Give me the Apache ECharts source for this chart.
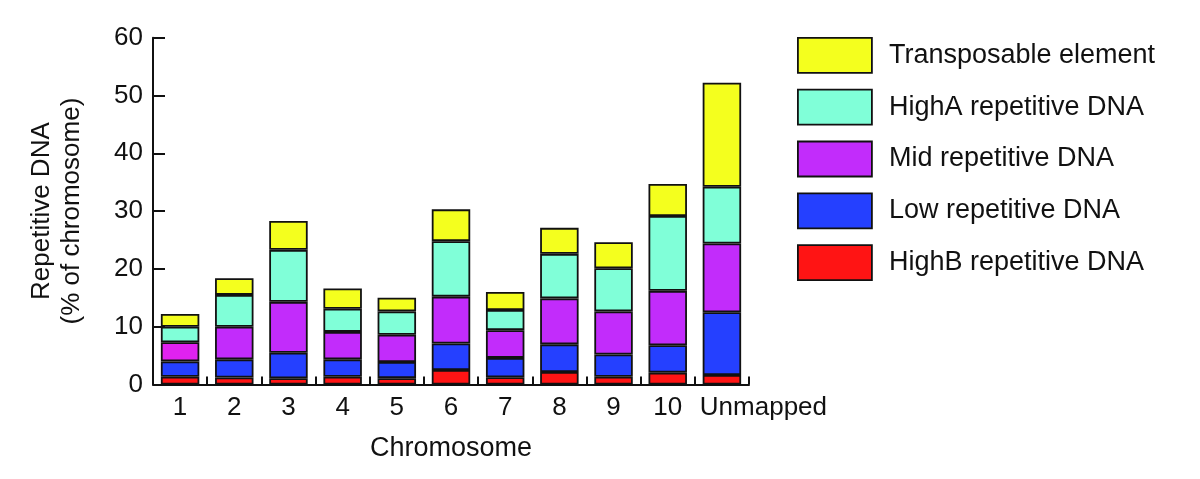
<!DOCTYPE html>
<html>
<head>
<meta charset="utf-8">
<script src="https://cdn.jsdelivr.net/npm/echarts@6/dist/echarts.min.js"></script>
<style>
  html, body { margin: 0; padding: 0; background: #fff; }
  #chart { width: 1200px; height: 479px; }
</style>
</head>
<body>
<div id="chart"></div>
<script>
const categories = ['1', '2', '3', '4', '5', '6', '7', '8', '9', '10', 'Unmapped'];
const highB        = [1.35, 1.2, 1.07, 1.35, 1.1, 2.5, 1.25, 2.15, 1.35, 2.05, 1.65];
const lowRep       = [2.65, 3.15, 4.43, 3.0, 2.8, 4.6, 3.35, 4.8, 3.85, 4.75, 10.85];
const midRep       = [3.3, 5.65, 8.8, 4.75, 4.7, 8.1, 4.8, 7.95, 7.45, 9.4, 11.9];
const highA        = [2.7, 5.5, 9.0, 4.0, 4.05, 9.6, 3.5, 7.7, 7.45, 12.95, 9.8];
const transposable = [2.2, 2.9, 5.0, 3.5, 2.35, 5.5, 3.1, 4.5, 4.5, 5.55, 18.0];
const yTicks = [0, 10, 20, 30, 40, 50, 60];

const FONT = '"Liberation Sans", Arial, Helvetica, sans-serif';
const colors = {
  te: '#F4FF1E',
  highA: '#80FFD8',
  mid: '#C22CFB',
  low: '#2540FF',
  highB: '#FF1414'
};
const midFirstColor = '#E022F0';

const chart = echarts.init(document.getElementById('chart'), null, { renderer: 'canvas' });

function mkSeries(name, data, color, override) {
  return {
    name: name,
    type: 'bar',
    stack: 'all',
    barCategoryGap: '29%',
    data: data.map((v, i) => (override && override[i]) ? { value: v, itemStyle: { color: override[i] } } : v),
    itemStyle: { color: color, borderColor: '#111', borderWidth: 1.8 },
    emphasis: { disabled: true },
    animation: false
  };
}

const option = {
  animation: false,
  textStyle: { fontFamily: FONT },
  grid: { left: 153, top: 37.7, width: 596, bottom: 94.5, containLabel: false },
  legend: {
    orient: 'vertical',
    left: 797,
    top: 37,
    padding: 0,
    itemWidth: 74,
    itemHeight: 35,
    itemGap: 15,
    icon: 'rect',
    selectedMode: false,
    data: ['Transposable element', 'HighA repetitive DNA', 'Mid repetitive DNA', 'Low repetitive DNA', 'HighB repetitive DNA'],
    itemStyle: { borderColor: '#111', borderWidth: 1.8 },
    textStyle: { fontFamily: FONT, fontSize: 27, color: '#111', padding: [0, 0, 0, 12] }
  },
  xAxis: {
    type: 'category',
    data: categories,
    boundaryGap: true,
    name: 'Chromosome',
    nameLocation: 'middle',
    nameGap: 51,
    nameTextStyle: { fontFamily: FONT, fontSize: 27, color: '#111' },
    axisLine: { lineStyle: { color: '#111', width: 2 } },
    axisTick: { show: true, inside: true, length: 8, lineStyle: { color: '#111', width: 2 } },
    axisLabel: {
      fontFamily: FONT, fontSize: 26, color: '#111', margin: 10, interval: 0,
      formatter: function (v) { return v === 'Unmapped' ? '{u|' + v + '}' : v; },
      rich: { u: { fontFamily: FONT, fontSize: 26, color: '#111', padding: [0, 0, 0, 83] } }
    }
  },
  yAxis: {
    type: 'value',
    min: yTicks[0],
    max: yTicks[yTicks.length - 1],
    interval: 10,
    name: 'Repetitive DNA\n(% of chromosome)',
    nameLocation: 'middle',
    nameGap: 66,
    nameTextStyle: { fontFamily: FONT, fontSize: 26, color: '#111', lineHeight: 30 },
    axisLine: { show: true, lineStyle: { color: '#111', width: 2 } },
    axisTick: { show: true, inside: true, length: 12, lineStyle: { color: '#111', width: 2 } },
    axisLabel: { fontFamily: FONT, fontSize: 26, color: '#111', margin: 10 },
    splitLine: { show: false }
  },
  series: [
    mkSeries('HighB repetitive DNA', highB, colors.highB),
    mkSeries('Low repetitive DNA', lowRep, colors.low),
    mkSeries('Mid repetitive DNA', midRep, colors.mid, { 0: midFirstColor }),
    mkSeries('HighA repetitive DNA', highA, colors.highA),
    mkSeries('Transposable element', transposable, colors.te)
  ]
};
chart.setOption(option);
</script>
</body>
</html>
